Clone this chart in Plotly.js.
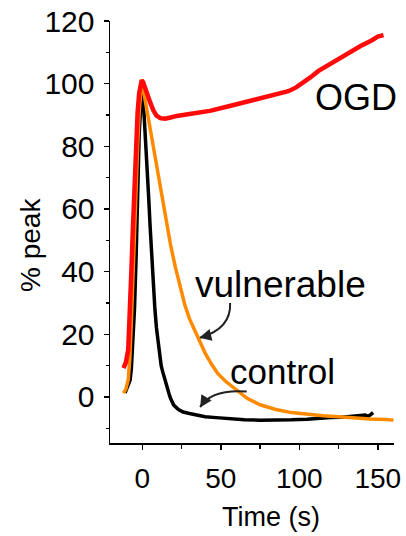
<!DOCTYPE html>
<html>
<head>
<meta charset="utf-8">
<script src="https://cdn.plot.ly/plotly-3.0.1.min.js"></script>
<style>html,body{margin:0;padding:0;background:#fff;}#chart{width:406px;height:536px;}</style>
</head>
<body>
<div id="chart"></div>
<script>
// OGD (red)
const ogdTime = [-12, -10.5, -9, -8, -7, -6, -5, -4, -3, -2, -1, -0.4, 0.5, 2, 3.5, 5, 7, 9, 11.5, 14.5, 18, 22, 30, 43, 55, 64, 75, 86, 93, 98, 103, 107, 112, 117.5, 123, 128, 134, 139, 146, 150, 153.6];
const ogdValue = [9.2, 11, 15, 25, 40, 54, 69, 81, 91, 97, 100, 101, 100.5, 98, 96, 94, 91.5, 89.8, 89, 88.8, 89.2, 89.7, 90.3, 91.3, 92.8, 94, 95.2, 96.6, 97.6, 98.8, 100.5, 102, 104, 105.7, 107, 108.9, 110.5, 112, 113.8, 115, 115.5];
// vulnerable (orange)
const vulTime = [-12, -10.5, -9, -8, -7, -6, -5, -4, -3, -2, -1, -0.4, 1, 2.8, 5, 8, 10, 12.5, 15.5, 18, 21, 24, 27, 30, 33, 36, 40, 44, 48, 53, 60, 67, 75, 85, 95, 105, 115, 125, 135, 145, 155, 160];
const vulValue = [1.2, 2.5, 5.4, 12, 24, 40, 53, 67, 80, 91, 97.5, 101.4, 97, 91.8, 85, 77, 71, 63.5, 55, 48.5, 41.5, 35, 29.5, 25, 21.5, 18, 14, 10.5, 7.5, 5, 2.2, -0.5, -2.5, -4, -5, -5.6, -6, -6.3, -6.7, -7, -7.2, -7.4];
// control (black)
const ctlTime = [-11, -9.5, -7.8, -7, -6, -5, -4, -3, -2.5, -2, -1, 0, 1, 2, 3, 4, 5, 6, 7, 8, 9, 10, 11, 12, 13, 14, 15, 16, 17, 18, 20, 23, 26, 30, 35, 40, 47, 55, 65, 75, 85, 95, 105, 111, 120, 127, 132, 138, 142, 144, 146, 147];
const ctlValue = [1.3, 3, 5.4, 9, 18, 28, 44, 64, 75.8, 84, 93, 98, 91, 83, 74, 64, 54, 44, 35, 28, 22, 17.5, 13.5, 10, 8, 6, 4, 2.5, 1, -0.5, -2.6, -4, -4.8, -5.3, -5.9, -6.3, -6.6, -7, -7.3, -7.4, -7.4, -7.3, -7.1, -6.8, -6.6, -6.5, -6.3, -6.1, -5.8, -6.2, -5.5, -5];

const xTicks = [0, 50, 100, 150];
const yTicks = [0, 20, 40, 60, 80, 100, 120];
const seriesLabels = ['OGD', 'vulnerable', 'control'];
const xTitle = 'Time (s)';
const yTitle = '% peak';

const FONT = 'Liberation Sans, Arial, Helvetica, sans-serif';

const traces = [
  {x: ctlTime, y: ctlValue, mode: 'lines', line: {color: '#000000', width: 3.5}, name: seriesLabels[2]},
  {x: vulTime, y: vulValue, mode: 'lines', line: {color: '#ff8a00', width: 3.5}, name: seriesLabels[1]},
  {x: ogdTime, y: ogdValue, mode: 'lines', line: {color: '#ff0a0a', width: 4.5}, name: seriesLabels[0]}
];

const layout = {
  width: 406, height: 536,
  margin: {l: 110, r: 12, t: 21, b: 93},
  paper_bgcolor: '#ffffff', plot_bgcolor: '#ffffff',
  showlegend: false,
  font: {family: FONT, color: '#000'},
  xaxis: {
    range: [-20.6, 160.3],
    tickvals: xTicks, ticktext: xTicks.map(String),
    ticks: 'outside', ticklen: 5, tickwidth: 1.5, tickcolor: '#000',
    ticklabelstandoff: 5,
    showline: true, linewidth: 1.5, linecolor: '#000',
    showgrid: false, zeroline: false,
    tickfont: {size: 28, family: FONT, color: '#000'},
    minor: {dtick: 25, tick0: 0, ticks: 'outside', ticklen: 4, tickwidth: 1.5, tickcolor: '#000', showgrid: false}
  },
  yaxis: {
    range: [-14.7, 120],
    tickvals: yTicks, ticktext: yTicks.map(String),
    ticks: 'outside', ticklen: 5, tickwidth: 1.5, tickcolor: '#000',
    ticklabelstandoff: 3,
    showline: true, linewidth: 1.5, linecolor: '#000',
    showgrid: false, zeroline: false,
    tickfont: {size: 30, family: FONT, color: '#000'},
    minor: {dtick: 10, tick0: 0, ticks: 'outside', ticklen: 3, tickwidth: 1.5, tickcolor: '#000', showgrid: false}
  },
  shapes: [
    {type: 'path', xref: 'x', yref: 'y', path: 'M 55.9,30.0 C 56.5,24.6 49.5,20.8 36.8,18.9', line: {color: '#222', width: 2}},
    {type: 'path', xref: 'x', yref: 'y', path: 'M 66.5,1.7 C 52.7,2.24 41.8,0.64 36.8,-3.2', line: {color: '#222', width: 2}}
  ],
  annotations: [
    {x: 0.567, y: -0.175, xref: 'paper', yref: 'paper', text: xTitle, showarrow: false, borderpad: 0, font: {size: 27, family: FONT, color: '#000'}, xanchor: 'center', yanchor: 'middle'},
    {x: -0.282, y: 0.469, xref: 'paper', yref: 'paper', text: yTitle, textangle: -90, showarrow: false, font: {size: 28, family: FONT, color: '#000'}, xanchor: 'center', yanchor: 'middle'},
    {x: 136, y: 95.7, xref: 'x', yref: 'y', text: seriesLabels[0], showarrow: false, font: {size: 36, family: FONT, color: '#000'}, xanchor: 'center', yanchor: 'middle'},
    {x: 88.3, y: 35.8, xref: 'x', yref: 'y', text: seriesLabels[1], showarrow: false, font: {size: 37, family: FONT, color: '#000'}, xanchor: 'center', yanchor: 'middle'},
    {x: 89.4, y: 8, xref: 'x', yref: 'y', text: seriesLabels[2], showarrow: false, font: {size: 35, family: FONT, color: '#000'}, xanchor: 'center', yanchor: 'middle'},
    {x: 36.3, y: 18.9, xref: 'x', yref: 'y', ax: 8, ay: -2, text: '', showarrow: true, arrowhead: 2, arrowsize: 1.2, arrowwidth: 2, arrowcolor: '#222', standoff: 0},
    {x: 36.8, y: -3.4, xref: 'x', yref: 'y', ax: 5, ay: -8, text: '', showarrow: true, arrowhead: 2, arrowsize: 1.2, arrowwidth: 2, arrowcolor: '#222', standoff: 0}
  ]
};

Plotly.newPlot('chart', traces, layout, {displayModeBar: false, staticPlot: true});
</script>
</body>
</html>
